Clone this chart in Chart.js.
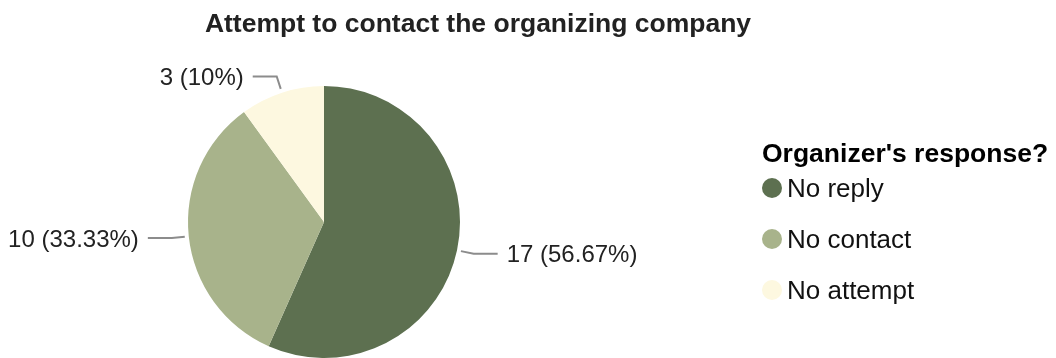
<!DOCTYPE html>
<html>
<head>
<meta charset="utf-8">
<title>Attempt to contact the organizing company</title>
<script src="https://cdn.jsdelivr.net/npm/chart.js@4.4.0/dist/chart.umd.min.js"></script>
<style>
    html, body { margin: 0; padding: 0; background: #fff; }
    #wrap {
        position: relative;
        width: 1056px;
        height: 358px;
        overflow: hidden;
        font-family: "Liberation Sans", Arial, sans-serif;
    }
    #pieChart { position: absolute; left: 0; top: 0; }
    #title {
        position: absolute;
        left: 0;
        top: 9.6px;
        width: 956px;
        text-align: center;
        font-size: 26.5px;
        line-height: 1;
        font-weight: bold;
        color: #222;
        white-space: nowrap;
    }
    #legendTitle {
        position: absolute;
        left: 762px;
        top: 139.6px;
        font-size: 26.5px;
        line-height: 1;
        font-weight: bold;
        color: #000;
        white-space: nowrap;
    }
    .legend-item {
        position: absolute;
        left: 762px;
        height: 51px;
        line-height: 51px;
        font-size: 26px;
        color: #111;
        white-space: nowrap;
    }
    .legend-item .dot {
        position: absolute;
        left: 0;
        top: 15.5px;
        width: 20px;
        height: 20px;
        border-radius: 50%;
    }
    .legend-item .txt { position: absolute; left: 25px; top: 0; }
</style>
</head>
<body>
<div id="wrap">
    <canvas id="pieChart" width="1056" height="358"></canvas>
    <div id="title">Attempt to contact the organizing company</div>
    <div id="legendTitle">Organizer's response?</div>
    <div id="legend"></div>
</div>
<script>
// Dados da pesquisa
const categorias = ['No reply', 'No contact', 'No attempt'];
const respostas = [17, 10, 3];
const cores = ['#5d7050', '#a8b38b', '#fdf8e0'];

// Legenda em HTML, uma linha por categoria
const legendEl = document.getElementById('legend');
categorias.forEach(function(nome, i) {
    const item = document.createElement('div');
    item.className = 'legend-item';
    item.style.top = (188 - 25.5 + i * 51) + 'px';
    item.innerHTML = '<span class="dot" style="background:' + cores[i] + '"></span><span class="txt"></span>';
    item.querySelector('.txt').textContent = nome;
    legendEl.appendChild(item);
});

// Rótulos com linha de chamada, calculados a partir de cada fatia
const rotulosPlugin = {
    id: 'rotulos',
    afterDatasetsDraw(chart) {
        const ctx = chart.ctx;
        const meta = chart.getDatasetMeta(0);
        const valores = chart.data.datasets[0].data;
        const total = valores.reduce((a, b) => a + b, 0);
        const tamanho = 24;

        ctx.save();
        meta.data.forEach(function(arc, i) {
            const meio = (arc.startAngle + arc.endAngle) / 2;
            const cos = Math.cos(meio);
            const sin = Math.sin(meio);
            const r = arc.outerRadius;
            const x1 = arc.x + cos * (r + 4);
            const y1 = arc.y + sin * (r + 4);
            const x2 = arc.x + cos * (r + 17);
            const y2 = arc.y + sin * (r + 17);
            const dir = cos >= 0 ? 1 : -1;
            const x3 = x2 + dir * 24;

            ctx.strokeStyle = '#8c8c8c';
            ctx.lineWidth = 2;
            ctx.beginPath();
            ctx.moveTo(x1, y1);
            ctx.lineTo(x2, y2);
            ctx.lineTo(x3, y2);
            ctx.stroke();

            const pct = parseFloat((valores[i] / total * 100).toFixed(2));
            const texto = valores[i] + ' (' + pct + '%)';
            ctx.fillStyle = '#222';
            ctx.font = tamanho + 'px "Liberation Sans", Arial, sans-serif';
            ctx.textAlign = dir > 0 ? 'left' : 'right';
            ctx.textBaseline = 'alphabetic';
            ctx.fillText(texto, x3 + dir * 9, y2 + 0.36 * tamanho);
        });
        ctx.restore();
    }
};

const pieCtx = document.getElementById('pieChart').getContext('2d');
new Chart(pieCtx, {
    type: 'pie',
    data: {
        labels: categorias,
        datasets: [{
            data: respostas,
            backgroundColor: cores,
            borderWidth: 0,
            hoverBorderWidth: 0,
            hoverOffset: 0
        }]
    },
    options: {
        responsive: false,
        animation: false,
        events: [],
        layout: {
            padding: { left: 188, right: 596, top: 86, bottom: 0 }
        },
        plugins: {
            legend: { display: false },
            tooltip: { enabled: false },
            title: { display: false }
        }
    },
    plugins: [rotulosPlugin]
});
</script>
</body>
</html>
